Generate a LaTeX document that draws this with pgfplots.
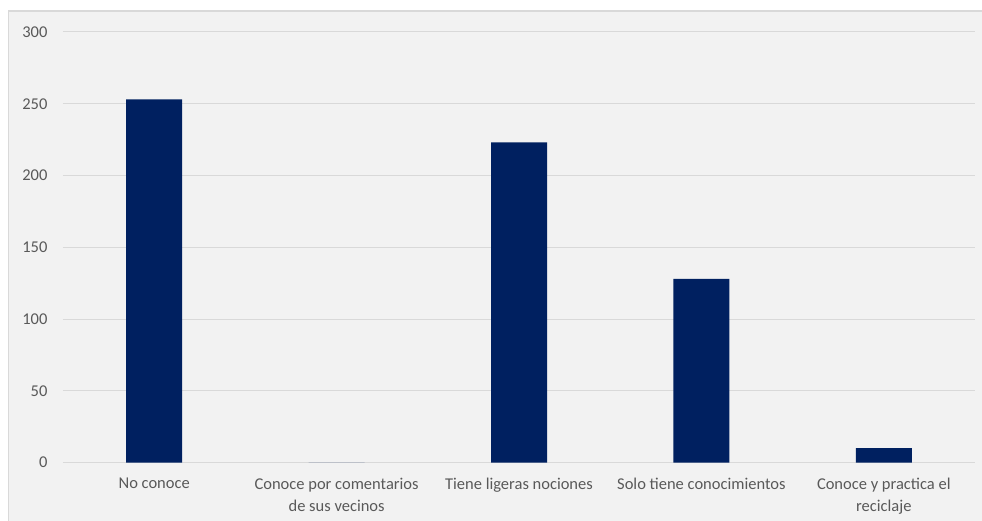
\documentclass[border=0pt]{standalone}
\usepackage{pgfplots}
\pgfplotsset{compat=1.18}
\usepackage{fontspec}
\setmainfont{Carlito}
\definecolor{barblue}{HTML}{002060}
\definecolor{gridgray}{HTML}{D9D9D9}
\definecolor{txtgray}{HTML}{595959}
\definecolor{panel}{HTML}{F2F2F2}
\definecolor{framegray}{HTML}{D9D9D9}
\begin{document}
\begin{tikzpicture}[x=1pt,y=1pt]
% chart area (extends past the right and bottom edges)
\useasboundingbox (-63,-57.5) rectangle (919,462.5);
\begin{scope}
\clip (-63,-57.5) rectangle (919,462.5);
\fill[panel, draw=framegray, line width=1.5pt] (-54.5,451.5) rectangle (930,-70);
\end{scope}
\begin{axis}[
  at={(0,0)}, anchor=south west,
  scale only axis,
  width=912pt, height=430.5pt,
  xmin=-0.5, xmax=4.5,
  ymin=0, ymax=300,
  ytick={0,50,...,300},
  xtick={0,1,2,3,4},
  xticklabels={No conoce,{Conoce por comentarios\\de sus vecinos},Tiene ligeras nociones,Solo tiene conocimientos,{Conoce y practica el\\reciclaje}},
  axis line style={draw=none},
  major tick length=0pt,
  ymajorgrids,
  grid style={gridgray, line width=1pt},
  tick label style={font=\fontsize{16.5}{22}\selectfont, text=txtgray},
  yticklabel style={anchor=east, xshift=-12pt},
  xticklabel style={align=center, anchor=north, yshift=-12pt},
  /pgf/number format/assume math mode=true,
  ybar, bar width=56pt,
  clip=false,
]
\addplot[fill=barblue, draw=none] coordinates {(0,253) (1,0) (2,223) (3,128) (4,10)};
\end{axis}
\end{tikzpicture}
\end{document}
